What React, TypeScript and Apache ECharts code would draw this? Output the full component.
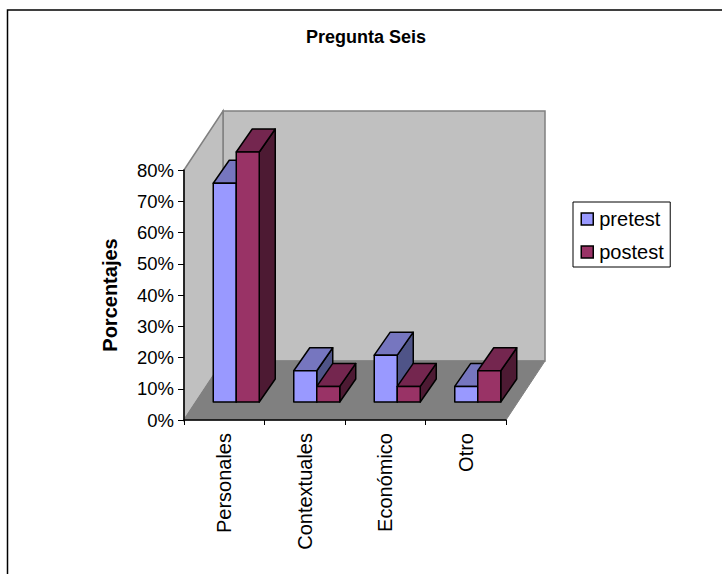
import React, { useEffect, useRef } from "react";
import * as echarts from "echarts";

const categories = ["Personales", "Contextuales", "Económico", "Otro"];
const pretest = [70, 10, 15, 5];
const postest = [80, 5, 5, 10];
const yTicks = [0, 80];
const FONT = "Liberation Sans";

const DX = 39;
const DY = 59;
const BAR_W = 23;

function wallsItem(params: any) {
  const c = params.coordSys;
  const L = c.x, T = c.y, R = c.x + c.width, B = c.y + c.height;
  const poly = (pts: number[][], fill: string, stroke: string, w: number) => ({
    type: "polygon",
    shape: { points: pts },
    style: { fill, stroke, lineWidth: w },
  });
  return {
    type: "group",
    children: [
      poly([[L + DX, T - DY], [R + DX, T - DY], [R + DX, B - DY], [L + DX, B - DY]], "#C0C0C0", "#808080", 1.5),
      poly([[L, T], [L + DX, T - DY], [L + DX, B - DY], [L, B]], "#C0C0C0", "#808080", 1.5),
      poly([[L, B], [L + DX, B - DY], [R + DX, B - DY], [R, B]], "#808080", "#808080", 1),
    ],
  };
}

function barRenderer(offsetIndex: number, front: string, top: string, side: string) {
  return (params: any, api: any) => {
    const cat = api.value(0);
    const val = api.value(1);
    const base = api.coord([cat, 0]);
    const head = api.coord([cat, val]);
    const sx = 12, sy = 18, ddx = 16, ddy = 23;
    const x0 = base[0] + sx + (offsetIndex - 1) * BAR_W;
    const x1 = x0 + BAR_W;
    const yb = base[1] - sy;
    const yt = head[1] - sy;
    const st = { stroke: "#000", lineWidth: 1.5, lineJoin: "round" };
    return {
      type: "group",
      children: [
        { type: "polygon", shape: { points: [[x1, yb], [x1 + ddx, yb - ddy], [x1 + ddx, yt - ddy], [x1, yt]] }, style: { fill: side, ...st } },
        { type: "polygon", shape: { points: [[x0, yt], [x0 + ddx, yt - ddy], [x1 + ddx, yt - ddy], [x1, yt]] }, style: { fill: top, ...st } },
        { type: "rect", shape: { x: x0, y: yt, width: BAR_W, height: yb - yt }, style: { fill: front, ...st } },
      ],
    };
  };
}

export default function App() {
  const ref = useRef<HTMLDivElement>(null);
  useEffect(() => {
    const chart = echarts.init(ref.current!, undefined, { renderer: "svg", width: 722, height: 574 });
    chart.setOption({
      animation: false,
      backgroundColor: "#fff",
      title: {
        text: "Pregunta Seis",
        left: 361,
        top: 23,
        textAlign: "center",
        textStyle: { fontFamily: FONT, fontSize: 18, fontWeight: "bold", color: "#000" },
      },
      grid: { left: 184, top: 170, width: 322, height: 250, containLabel: false },
      xAxis: {
        type: "category",
        data: categories,
        axisLine: { show: true, lineStyle: { color: "#000", width: 1.5 } },
        axisTick: { show: true, alignWithLabel: false, length: 5, lineStyle: { color: "#000" } },
        axisLabel: { rotate: 90, color: "#000", fontFamily: FONT, fontSize: 20, margin: 13, interval: 0, padding: [0, 0, 3, 0] },
        z: 5,
      },
      yAxis: {
        type: "value",
        min: yTicks[0],
        max: yTicks[1],
        interval: 10,
        name: "Porcentajes",
        nameLocation: "middle",
        nameGap: 64,
        nameTextStyle: { fontFamily: FONT, fontSize: 20, fontWeight: "bold", color: "#000" },
        axisLine: { show: true, lineStyle: { color: "#000", width: 1.5 } },
        axisTick: { show: true, length: 6, lineStyle: { color: "#000" } },
        axisLabel: { formatter: "{value}%", color: "#000", fontFamily: FONT, fontSize: 18.5, margin: 10, padding: [0, 0, 4, 0] },
        splitLine: { show: false },
        z: 5,
      },
      legend: {
        left: 573,
        top: 202,
        orient: "vertical",
        icon: "rect",
        itemWidth: 12,
        itemHeight: 12,
        itemGap: 13,
        padding: [7, 6.5, 5, 7.5],
        borderColor: "#000",
        borderWidth: 1,
        backgroundColor: "#fff",
        data: ["pretest", "postest"],
        textStyle: { fontFamily: FONT, fontSize: 20, color: "#000", padding: [0, 0, 0, 1] },
        itemStyle: { borderColor: "#000", borderWidth: 1.5 },
      },
      graphic: [
        {
          type: "polyline",
          shape: { points: [[7.5, 574], [7.5, 10], [722, 10]] },
          style: { stroke: "#000", lineWidth: 1.5, fill: "none" },
        },
      ],
      series: [
        {
          type: "custom",
          name: "walls",
          coordinateSystem: "cartesian2d",
          data: [[0, 0]],
          z: 1,
          silent: true,
          renderItem: wallsItem,
        },
        {
          type: "custom",
          name: "pretest",
          coordinateSystem: "cartesian2d",
          itemStyle: { color: "#9999FF" },
          encode: { x: 0, y: 1 },
          data: pretest.map((v, i) => [i, v]),
          z: 2,
          renderItem: barRenderer(0, "#9999FF", "#7676BF", "#4F5488"),
        },
        {
          type: "custom",
          name: "postest",
          coordinateSystem: "cartesian2d",
          itemStyle: { color: "#993366" },
          encode: { x: 0, y: 1 },
          data: postest.map((v, i) => [i, v]),
          z: 3,
          renderItem: barRenderer(1, "#993366", "#74264F", "#4D1A33"),
        },
      ],
    });
    return () => chart.dispose();
  }, []);
  return <div ref={ref} style={{ position: "absolute", left: 0, top: 0, width: 722, height: 574 }} />;
}
